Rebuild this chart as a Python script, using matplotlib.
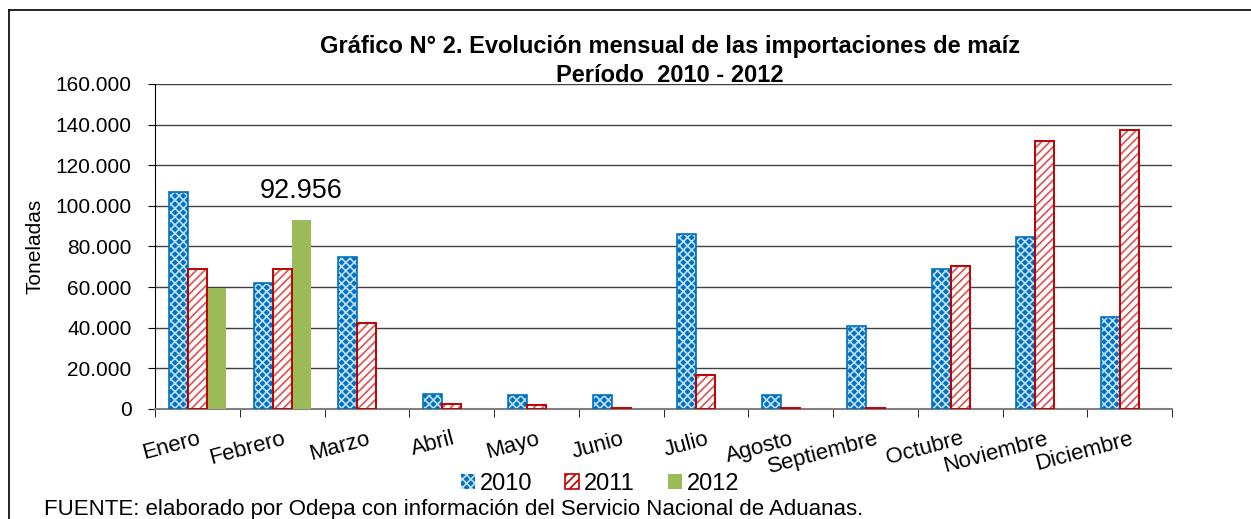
""" Monthly corn imports 2010-2012, grouped bars with Excel-style hatching.
"""
import matplotlib
matplotlib.use('Agg')
import matplotlib.pyplot as plt
import numpy as np
from matplotlib.ticker import FuncFormatter, FixedLocator
from matplotlib.patches import Patch
from matplotlib.lines import Line2D

months = ['Enero', 'Febrero', 'Marzo', 'Abril', 'Mayo', 'Junio', 'Julio',
          'Agosto', 'Septiembre', 'Octubre', 'Noviembre', 'Diciembre']
imports_2010 = [106800, 62000, 74700, 7200, 7000, 6800, 86100, 7000, 40700, 68700, 84800, 45400]
imports_2011 = [68900, 68900, 42100, 2300, 1800, 300, 16600, 300, 300, 70300, 132000, 137400]
imports_2012 = [59600, 92956, 0, 0, 0, 0, 0, 0, 0, 0, 0, 0]
label_month = 1
label_text = '92.956'

plt.rcParams['font.family'] = ['Liberation Sans', 'DejaVu Sans']
plt.rcParams['hatch.linewidth'] = 1.2

blue = '#0070C0'
red = '#C00000'
green = '#9BBB59'

fig = plt.figure(figsize=(12.51, 5.19), dpi=100)
ax = fig.add_axes([155 / 1251, 110 / 519, 1017 / 1251, 325 / 519])

x = np.arange(len(months))
w = 0.225

# 2010: blue with fine white cross pattern, then blue outline
ax.bar(x - w, imports_2010, w, color=blue, edgecolor='#BFE0F5', hatch='xxxx', linewidth=0, zorder=3)
ax.bar(x - w, imports_2010, w, fill=False, edgecolor=blue, linewidth=1.2, zorder=4)
# 2011: white with red diagonal stripes
ax.bar(x, imports_2011, w, color='white', edgecolor='#E05050', hatch='////', linewidth=0, zorder=3)
ax.bar(x, imports_2011, w, fill=False, edgecolor=red, linewidth=1.4, zorder=4)
# 2012: solid green
ax.bar(x + w, imports_2012, w, color=green, linewidth=0, zorder=3)

ax.text(label_month + w, imports_2012[label_month] + 8000, label_text,
        fontsize=19.5, ha='center', va='bottom')

ax.set_xlim(-0.5, len(months) - 0.5)
ax.set_ylim(0, 160000)
ax.set_yticks(np.arange(0, 160001, 20000))
ax.yaxis.set_major_formatter(FuncFormatter(lambda v, p: '{:,.0f}'.format(v).replace(',', '.')))
ax.yaxis.grid(True, color='#404040', linewidth=1.0, zorder=0)
ax.tick_params(axis='y', direction='out', length=5, labelsize=15, pad=12)

ax.set_xticks(x)
ax.set_xticklabels(months, rotation=15, ha='right', rotation_mode='anchor', fontsize=16)
ax.xaxis.set_minor_locator(FixedLocator(np.arange(-0.5, len(months), 1)))
ax.tick_params(axis='x', which='major', length=0, pad=14)
ax.tick_params(axis='x', which='minor', direction='out', length=6, color='black')

ax.spines['top'].set_visible(False)
ax.spines['right'].set_visible(False)
ax.spines['bottom'].set_color('#808080')
ax.spines['bottom'].set_linewidth(1.5)
ax.spines['left'].set_color('black')

ax.set_ylabel('Toneladas', fontsize=15, labelpad=8)

fig.text(670 / 1251, 1 - 47 / 519, 'Gráfico N° 2. Evolución mensual de las importaciones de maíz',
         ha='center', va='center', fontsize=17, weight='bold')
fig.text(670 / 1251, 1 - 75 / 519, 'Período  2010 - 2012',
         ha='center', va='center', fontsize=17, weight='bold')

handles = [
    Patch(facecolor=blue, edgecolor='#BFE0F5', hatch='xxxx', linewidth=0),
    Patch(facecolor='white', edgecolor=red, hatch='////', linewidth=1.2),
    Patch(facecolor=green, linewidth=0),
]
fig.legend(handles, ['2010', '2011', '2012'], loc='center', bbox_to_anchor=(600 / 1251, 1 - 484 / 519),
           ncol=3, frameon=False, fontsize=17, handlelength=0.6, handleheight=0.6,
           handletextpad=0.2, columnspacing=1.4)

fig.text(44 / 1251, 1 - 510 / 519, 'FUENTE: elaborado por Odepa con información del Servicio Nacional de Aduanas.',
         ha='left', va='center', fontsize=16)

# outer frame: left and top edges only
fig.add_artist(Line2D([9 / 1251, 9 / 1251], [0, 1 - 10 / 519], transform=fig.transFigure, color='black', linewidth=1.2))
fig.add_artist(Line2D([9 / 1251, 1], [1 - 10 / 519, 1 - 10 / 519], transform=fig.transFigure, color='black', linewidth=1.2))

fig.savefig('out.png', dpi=100)
